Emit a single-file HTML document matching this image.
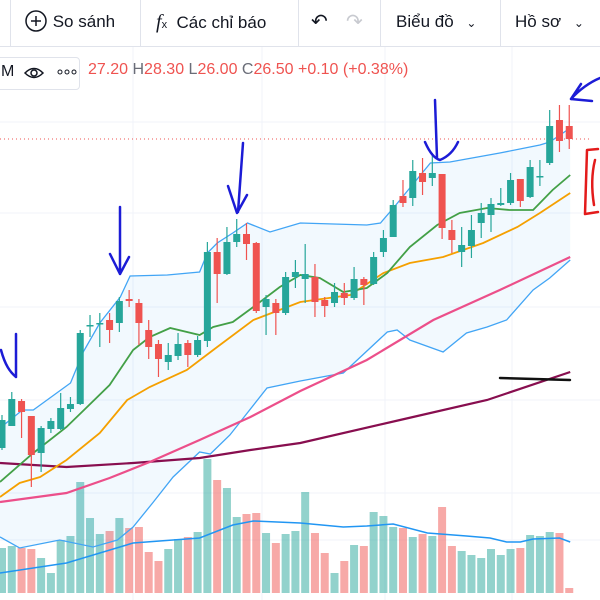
<!DOCTYPE html>
<html><head><meta charset="utf-8">
<style>
html,body{margin:0;padding:0;background:#fff;width:600px;height:600px;overflow:hidden;font-family:"Liberation Sans","Noto Sans CJK SC",sans-serif}
#chart{position:absolute;left:0;top:0}
.tb{position:absolute;top:0;left:0;width:600px;height:46px;border-bottom:1px solid #e0e3eb;background:#fff}
.tbi{position:absolute;top:0;height:46px;line-height:44px;font-size:17px;color:#131722;white-space:nowrap}
.sep{position:absolute;top:0;width:1px;height:46px;background:#e0e3eb}
.leg{position:absolute;left:-6px;top:57px;width:84px;height:31px;border:1px solid #e0e3eb;border-radius:4px;background:#fff}
.ohlc{position:absolute;left:88px;top:61px;font-size:16px;color:#ef5350;white-space:nowrap}
.ohlc .k{color:#6a6d78}
</style></head><body>
<svg id="chart" width="600" height="600"></svg>

<div class="tb">
  <div class="sep" style="left:10px"></div>
  <div class="tbi" style="left:24px"><svg width="24" height="24" style="vertical-align:-6px"><circle cx="12" cy="12" r="10" fill="none" stroke="#131722" stroke-width="1.5"/><path d="M12 7v10M7 12h10" stroke="#131722" stroke-width="1.5"/></svg> So sánh</div>
  <div class="sep" style="left:140px"></div>
  <div class="tbi" style="left:156px"><span style="font-family:'Liberation Serif',serif;font-style:italic;font-size:20px">f</span><span style="font-size:11px">x</span>&nbsp; Các chỉ báo</div>
  <div class="sep" style="left:298px"></div>
  <div class="tbi" style="left:311px;font-size:20px">↶</div>
  <div class="tbi" style="left:346px;font-size:20px;color:#c8cad0">↷</div>
  <div class="sep" style="left:380px"></div>
  <div class="tbi" style="left:396px">Biểu đồ <span style="font-size:12px;margin-left:8px">⌄</span></div>
  <div class="sep" style="left:500px"></div>
  <div class="tbi" style="left:515px">Hồ sơ <span style="font-size:12px;margin-left:8px">⌄</span></div>
</div>
<div class="leg">
  <span style="position:absolute;left:6px;top:5px;font-size:16px;color:#131722">M</span>
  <svg style="position:absolute;left:28px;top:6px" width="22" height="18"><path d="M2 9 Q11 0 20 9 Q11 18 2 9Z" fill="none" stroke="#131722" stroke-width="1.5"/><circle cx="11" cy="9" r="3" fill="none" stroke="#131722" stroke-width="1.5"/></svg>
  <svg style="position:absolute;left:62px;top:10px" width="22" height="8"><circle cx="3" cy="4" r="2" fill="none" stroke="#131722"/><circle cx="10" cy="4" r="2" fill="none" stroke="#131722"/><circle cx="17" cy="4" r="2" fill="none" stroke="#131722"/></svg>
</div>
<div class="ohlc">27.20 <span class="k">H</span>28.30 <span class="k">L</span>26.00 <span class="k">C</span>26.50 +0.10 (+0.38%)</div>

<script>
const opens  =[15.2,17.4,19.9,18.4,14.7,17.1,17.1,19.1,19.6,27.4,27.6,28.0,27.7,30.1,29.7,27.0,25.6,23.8,24.4,25.7,24.5,25.9,34.8,32.6,35.8,36.6,35.7,29.3,29.7,28.7,32.3,32.1,32.3,30.0,29.7,30.7,30.2,32.1,31.6,34.8,36.3,40.4,40.2,42.7,42.2,42.6,37.0,34.8,35.4,37.7,38.5,39.5,39.7,42.1,40.3,42.3,43.7,48.0,47.4];
const highs  =[18.5,20.8,20.1,18.4,17.4,18.2,20.7,20.3,27.0,28.5,28.7,28.7,30.3,31.0,30.1,28.0,26.0,25.7,26.7,26.0,26.4,35.8,36.2,37.3,38.1,37.7,35.8,30.5,30.1,32.8,34.0,35.6,33.6,30.3,31.7,31.7,33.3,32.3,34.8,37.0,40.0,42.0,44.0,44.2,44.7,42.6,38.0,37.3,38.5,39.7,40.2,41.2,42.7,42.1,44.0,44.0,49.0,49.5,49.5];
const lows   =[15.0,17.4,16.2,11.3,12.8,16.7,17.0,18.8,19.5,26.3,25.3,25.7,26.8,29.3,25.5,24.1,22.3,23.0,24.0,23.3,24.3,25.3,29.7,32.5,35.3,34.0,28.7,26.5,26.5,28.5,31.2,29.7,28.3,28.3,29.3,29.5,30.0,29.5,31.5,34.3,36.3,39.3,39.4,40.5,41.4,36.1,34.7,33.3,34.2,36.2,36.8,39.4,39.5,39.3,40.2,41.4,43.5,44.8,45.1];
const closes =[18.0,20.1,18.8,14.5,17.2,17.9,19.2,19.6,26.7,27.5,27.7,27.0,29.9,29.9,27.7,25.3,24.1,24.5,25.6,24.5,26.0,34.8,32.6,35.8,36.6,35.6,28.9,30.1,28.7,32.3,32.8,32.6,29.8,29.4,30.8,30.2,32.1,31.5,34.3,36.2,39.5,39.7,42.9,41.8,42.7,37.2,36.0,35.5,37.0,38.7,39.6,39.7,42.0,39.9,43.3,42.4,47.4,45.9,46.1];
const volumes=[45,47,45,44,35,20,53,57,111,75,59,62,75,65,66,41,32,44,54,56,61,134,113,105,76,79,80,60,50,59,62,101,60,40,20,32,48,47,81,77,66,65,56,59,57,86,47,42,38,35,44,38,44,45,58,57,61,60,5];
// indicator series: [candle index, value]
const bbUpper=[[-0.2,17.2],[2.1,19.0],[3.2,19.0],[7.0,21.7],[8.3,24.8],[10.0,27.7],[12.1,30.3],[13.1,32.4],[16.9,32.5],[20.2,32.8],[21.0,34.7],[22.0,35.7],[23.6,36.7],[25.1,37.7],[27.4,36.8],[30.5,37.7],[37.3,37.5],[38.7,37.7],[40.1,39.3],[43.8,43.7],[45.8,43.8],[50.9,44.7],[55.0,45.5],[56.0,45.8],[58.1,47.2]];
const bbLower=[[-0.2,6.3],[1.8,5.2],[5.9,6.0],[9.3,5.3],[11.8,6.0],[13.4,7.3],[15.4,9.7],[17.5,12.3],[20.2,14.8],[21.3,14.6],[23.3,16.5],[27.1,21.2],[30.5,21.9],[34.9,22.7],[39.4,26.8],[40.4,27.0],[41.7,26.0],[45.1,24.8],[47.5,26.7],[49.6,27.3],[51.6,28.0],[54.3,31.0],[56.0,32.2],[58.1,34.0]];
const maGreen=[[-0.2,11.8],[3.2,14.7],[6.6,17.3],[8.7,19.3],[11.0,21.5],[13.4,25.0],[15.1,26.3],[17.2,27.2],[20.2,26.5],[21.6,27.3],[23.6,27.8],[25.7,29.3],[28.4,31.3],[30.5,32.5],[32.5,32.2],[34.9,30.8],[37.3,31.2],[39.4,32.7],[41.7,35.3],[44.5,37.5],[46.8,38.7],[49.6,39.2],[51.9,39.0],[54.3,39.0],[56.3,41.0],[58.1,42.5]];
const maOrange=[[-0.2,10.3],[1.8,11.7],[3.9,12.3],[6.6,14.0],[10.0,16.7],[12.8,20.0],[15.1,21.3],[18.9,23.0],[22.0,25.3],[25.7,28.0],[30.5,29.8],[35.6,30.5],[39.0,32.7],[41.7,33.7],[45.1,34.3],[49.2,35.7],[52.7,37.3],[55.0,38.7],[58.1,40.7]];
const maPink=[[-0.2,9.8],[6.6,10.7],[11.0,12.2],[15.1,13.8],[20.2,16.0],[25.4,18.3],[30.5,20.9],[37.3,24.0],[44.1,28.0],[50.9,31.0],[58.1,34.3]];
const maMaroon=[[-0.2,13.7],[6.6,13.3],[13.4,13.7],[20.2,14.2],[25.4,15.0],[30.5,15.7],[40.7,18.0],[49.6,20.0],[58.1,22.8]];
const volMA=[[-0.2,20],[6.6,30],[13.4,50],[20.2,55],[23.6,68],[25.7,72],[30.5,70],[34.9,66],[37.3,67],[40.0,69],[43.5,60],[47.5,57],[49.9,55],[51.6,51],[53.0,51],[54.3,54],[57.0,55],[58.1,51]];
const lastPrice=46.1;

const NS='http://www.w3.org/2000/svg';
const svg=document.getElementById('chart');
const X=i=>2+i*9.78;
const Y=p=>600-p*10;
const VY=v=>593-v;
function mk(tag,attrs,parent){const e=document.createElementNS(NS,tag);for(const k in attrs)e.setAttribute(k,attrs[k]);(parent||svg).appendChild(e);return e;}
function pathOf(arr,fy){return arr.map((d,j)=>(j?'L':'M')+X(d[0]).toFixed(1)+' '+fy(d[1]).toFixed(1)).join(' ');}

// grid
[133,262,385,512].forEach(x=>{const g=mk('line',{x1:x,x2:x,y1:47,y2:600,stroke:'#f0f3fa','stroke-width':1});

});
[122,213,307,400,493,540].forEach(y=>{const g=mk('line',{x1:0,x2:600,y1:y,y2:y,stroke:'#f0f3fa','stroke-width':1});

});

// volume bars
volumes.forEach((v,i)=>{const up=closes[i]>=opens[i];
const r=mk('rect',{x:X(i)-4,y:VY(v),width:8,height:v,fill:up?'rgba(38,166,154,0.5)':'rgba(239,83,80,0.5)'});

});
const vm=mk('path',{d:pathOf(volMA,VY),fill:'none',stroke:'#2196f3','stroke-width':1.5});



// BB fill
const fillD=pathOf(bbUpper,Y)+' '+bbLower.slice().reverse().map(d=>'L'+X(d[0]).toFixed(1)+' '+Y(d[1]).toFixed(1)).join(' ')+'Z';
const bf=mk('path',{d:fillD,fill:'rgba(33,150,243,0.06)',stroke:'none'});


const lines=[[bbUpper,'#42a5f5',1.3,'bollinger-upper'],[bbLower,'#42a5f5',1.3,'bollinger-lower'],[maMaroon,'#880e4f',2.2,'ma-200-line'],[maPink,'#ec4f8a',2.2,'ma-100-line'],[maOrange,'#f5a000',1.8,'ma-50-line'],[maGreen,'#43a047',1.8,'ma-20-line']];
lines.forEach(l=>{const p=mk('path',{d:pathOf(l[0],Y),fill:'none',stroke:l[1],'stroke-width':l[2]});

});

// last price line
const lp=mk('line',{x1:0,x2:590,y1:Y(lastPrice),y2:Y(lastPrice),stroke:'#ef5350','stroke-width':1,'stroke-dasharray':'1 3'});



// candles
opens.forEach((o,i)=>{const c=closes[i],up=c>=o,col=up?'#26a69a':'#ef5350';
const g=mk('g',{});


mk('line',{x1:X(i),x2:X(i),y1:Y(highs[i]),y2:Y(lows[i]),stroke:col,'stroke-width':1.2},g);
const top=Y(Math.max(o,c)),h=Math.max(1.5,Math.abs(Y(o)-Y(c)));
mk('rect',{x:X(i)-3.5,y:top,width:7,height:h,fill:col},g);});

// hand-drawn annotations
const ann=[
 ['M16 334 L16 377 C10 372 5 365 1 350','#1c1cd6','annotation-arrow'],
 ['M120 207 L120 274 M110 254 L120 274 L129 257','#1c1cd6','annotation-arrow'],
 ['M243 143 L238 212 M228 186 L237 213 L247 195','#1c1cd6','annotation-arrow'],
 ['M435 100 L437 158 M425 142 Q432 158 440 160 Q452 155 458 142','#1c1cd6','annotation-arrow'],
 ['M600 78 C590 82 579 90 571 99 M571 99 L581 84 M571 99 L592 101','#1c1cd6','annotation-arrow'],
 ['M598 149 L587 150 L585 214 L598 212 M595 160 Q590 180 594 205','#e31b1b','annotation-bracket'],
 ['M500 378 L570 380','#111','annotation-line']];
ann.forEach(a=>{const p=mk('path',{d:a[0],fill:'none',stroke:a[1],'stroke-width':2.5,'stroke-linecap':'round','stroke-linejoin':'round'});

});
</script>
</body></html>
